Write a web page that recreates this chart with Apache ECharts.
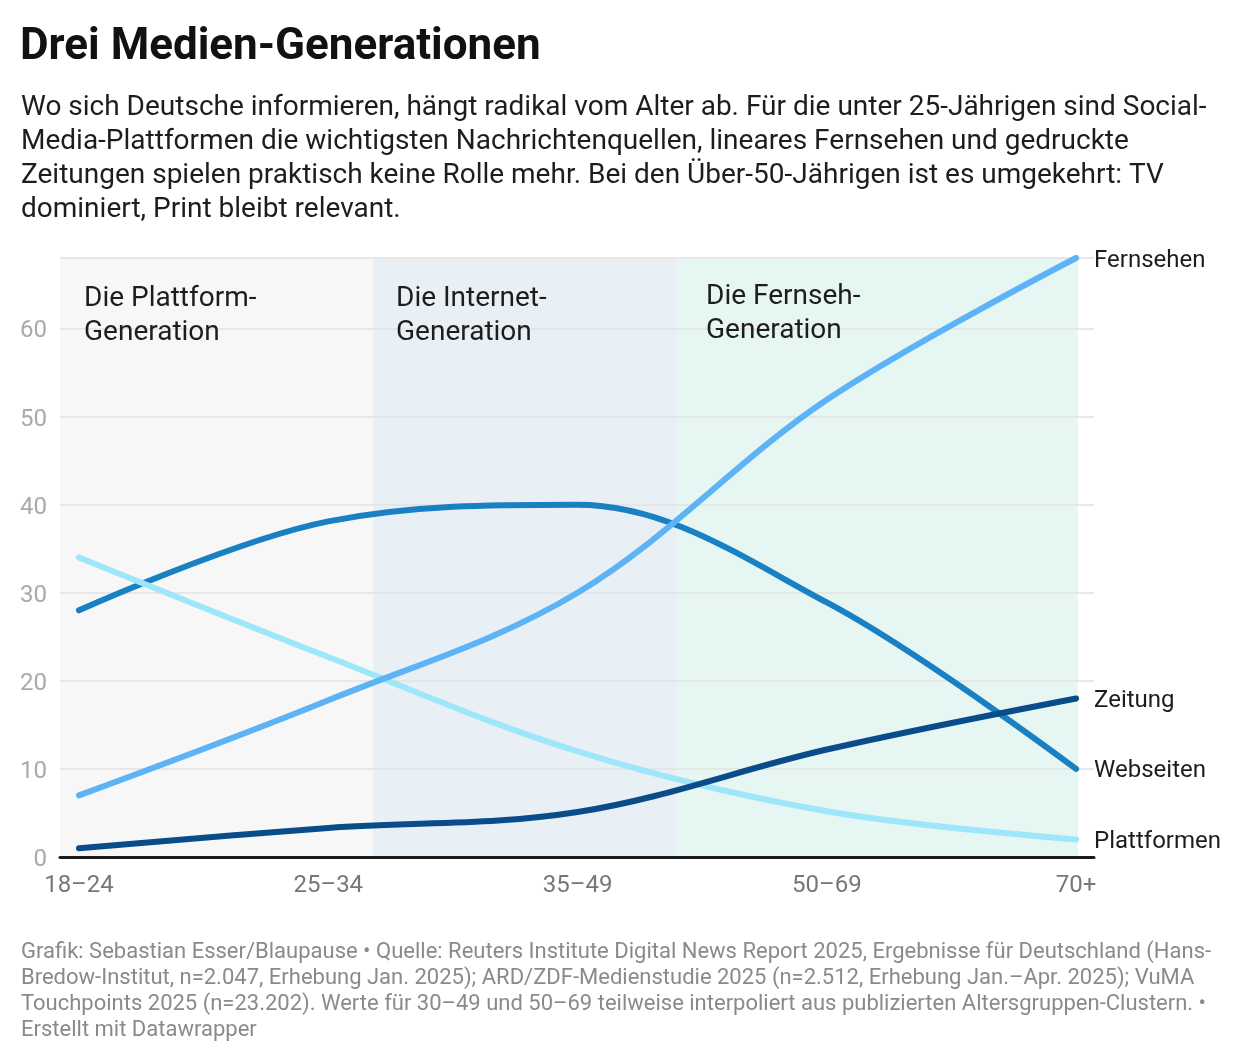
<!DOCTYPE html>
<html>
<head>
<meta charset="utf-8">
<script src="https://cdn.jsdelivr.net/npm/echarts@6/dist/echarts.min.js"></script>
<style>
html,body{margin:0;padding:0;background:#fff;}
#chart{width:1240px;height:1062px;}
</style>
</head>
<body>
<div id="chart"></div>
<script>
const categories = ['18–24', '25–34', '35–49', '50–69', '70+'];
const fernsehen = [7, 17.8, 30, 51.9, 68];
const webseiten = [28, 38.1, 40, 28.9, 10];
const zeitung = [1, 3.3, 5.1, 12.2, 18];
const plattformen = [34, 22.7, 12, 5.2, 2];
const yTicks = [0, 10, 20, 30, 40, 50, 60];
const zones = [
  { name: 'Die Plattform-\nGeneration', from: -0.0762, to: 1.18, color: '#f7f7f7' },
  { name: 'Die Internet-\nGeneration', from: 1.18, to: 2.4, color: '#e8f0f6' },
  { name: 'Die Fernseh-\nGeneration', from: 2.4, to: 4.008, color: '#e5f6f3' }
];

const FONT = 'Roboto, "Noto Sans", sans-serif';
const toPairs = arr => arr.map((v, i) => [i, v]);

function lineSeries(name, data, color) {
  return {
    name, type: 'line', data: toPairs(data),
    smooth: 0.35,
    showSymbol: false, symbol: 'none',
    lineStyle: { width: 6, color, cap: 'round' },
    itemStyle: { color },
    z: 4,
    endLabel: {
      show: true, formatter: name, distance: 18, offset: [0, 2.5],
      color: '#1d1d1d', fontSize: 24, fontFamily: FONT
    },
    emphasis: { disabled: true }
  };
}

const chart = echarts.init(document.getElementById('chart'));
chart.setOption({
  backgroundColor: '#ffffff',
  animation: false,
  grid: { left: 60, right: 146, top: 258, bottom: 205, containLabel: false },
  xAxis: {
    type: 'value', min: -0.0762, max: 4.072, z: 6,
    axisLine: { show: true, onZero: false, lineStyle: { color: '#1a1a1a', width: 3 } },
    axisTick: { show: false },
    splitLine: { show: false },
    axisLabel: {
      customValues: [0, 1, 2, 3, 4],
      formatter: v => categories[Math.round(v)],
      color: '#777', fontSize: 24, fontFamily: FONT, margin: 17
    }
  },
  yAxis: {
    type: 'value', min: 0, max: 68, z: 3,
    axisLine: { show: false }, axisTick: { show: false },
    splitLine: { show: true, lineStyle: { color: '#e2e2e2', width: 1.5 } },
    axisLabel: {
      customValues: yTicks,
      formatter: v => '{t|' + v + '}',
      rich: { t: { color: '#aaa', fontSize: 24, fontFamily: FONT, padding: [6, 0, 0, 0] } },
      margin: 13
    }
  },
  graphic: [
    { type: 'text', left: 20, top: 26, style: { text: 'Drei Medien-Generationen', font: 'bold 44px ' + FONT, fill: '#111' } },
    { type: 'text', left: 21, top: 91, style: {
      text: 'Wo sich Deutsche informieren, hängt radikal vom Alter ab. Für die unter 25-Jährigen sind Social-\nMedia-Plattformen die wichtigsten Nachrichtenquellen, lineares Fernsehen und gedruckte\nZeitungen spielen praktisch keine Rolle mehr. Bei den Über-50-Jährigen ist es umgekehrt: TV\ndominiert, Print bleibt relevant.',
      font: '28px ' + FONT, fill: '#1d1d1d', lineHeight: 34 } },
    { type: 'text', left: 21, top: 939, style: {
      text: 'Grafik: Sebastian Esser/Blaupause • Quelle: Reuters Institute Digital News Report 2025, Ergebnisse für Deutschland (Hans-\nBredow-Institut, n=2.047, Erhebung Jan. 2025); ARD/ZDF-Medienstudie 2025 (n=2.512, Erhebung Jan.–Apr. 2025); VuMA\nTouchpoints 2025 (n=23.202). Werte für 30–49 und 50–69 teilweise interpoliert aus publizierten Altersgruppen-Clustern. •\nErstellt mit Datawrapper',
      font: '22px ' + FONT, fill: '#8a8a8a', lineHeight: 26 } },
    { type: 'text', left: 84, top: 282, z: 5, style: { text: zones[0].name, font: '28px ' + FONT, fill: '#1d1d1d', lineHeight: 34 } },
    { type: 'text', left: 396, top: 282, z: 5, style: { text: zones[1].name, font: '28px ' + FONT, fill: '#1d1d1d', lineHeight: 34 } },
    { type: 'text', left: 706, top: 280, z: 5, style: { text: zones[2].name, font: '28px ' + FONT, fill: '#1d1d1d', lineHeight: 34 } }
  ],
  series: [
    {
      name: 'zones', type: 'line', data: [], z: 1, silent: true,
      markArea: {
        silent: true,
        data: zones.map(z => [
          { xAxis: z.from, yAxis: 0, itemStyle: { color: z.color } },
          { xAxis: z.to, yAxis: 68 }
        ])
      }
    },
    lineSeries('Webseiten', webseiten, '#1a80c4'),
    lineSeries('Plattformen', plattformen, '#9ee6fa'),
    lineSeries('Fernsehen', fernsehen, '#5cb3f5'),
    lineSeries('Zeitung', zeitung, '#0a4c8a')
  ]
});
</script>
</body>
</html>
